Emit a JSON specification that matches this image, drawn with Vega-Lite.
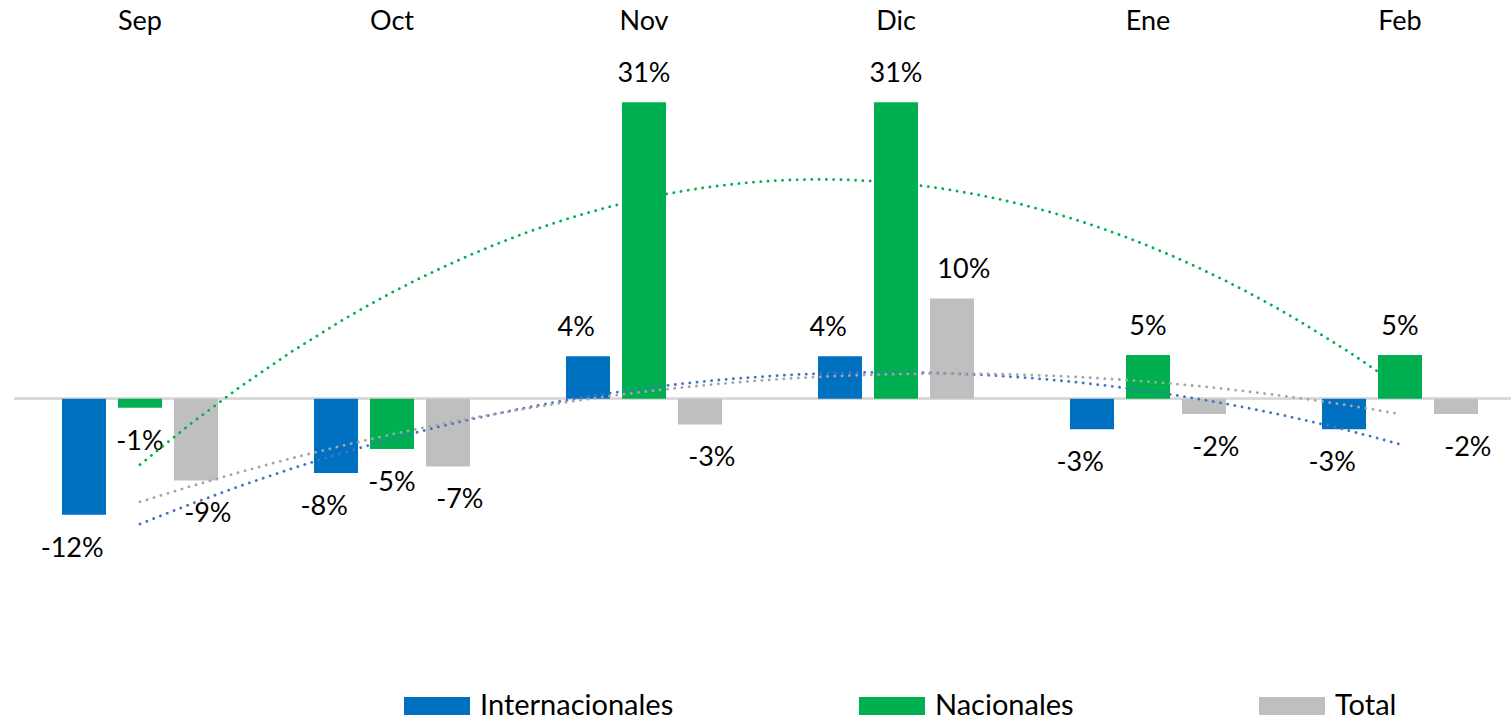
{
  "$schema": "https://vega.github.io/schema/vega-lite/v6.json",
  "width": 1512,
  "height": 632,
  "autosize": {"type": "none"},
  "padding": {"left": 14, "top": 54, "right": 0, "bottom": 35},
  "background": "white",
  "config": {
    "view": {"stroke": null},
    "font": "Lato",
    "locale": {"number": {"decimal": ".", "thousands": ",", "grouping": [3], "currency": ["$", ""], "minus": "-"}}
  },
  "data": {
    "values": [
      {"month": "Sep", "idx": 0, "series": "Internacionales", "value": -0.1211},
      {"month": "Sep", "idx": 0, "series": "Nacionales", "value": -0.0094},
      {"month": "Sep", "idx": 0, "series": "Total", "value": -0.0853},
      {"month": "Oct", "idx": 1, "series": "Internacionales", "value": -0.0776},
      {"month": "Oct", "idx": 1, "series": "Nacionales", "value": -0.0525},
      {"month": "Oct", "idx": 1, "series": "Total", "value": -0.0707},
      {"month": "Nov", "idx": 2, "series": "Internacionales", "value": 0.0444},
      {"month": "Nov", "idx": 2, "series": "Nacionales", "value": 0.3097},
      {"month": "Nov", "idx": 2, "series": "Total", "value": -0.0268},
      {"month": "Dic", "idx": 3, "series": "Internacionales", "value": 0.0444},
      {"month": "Dic", "idx": 3, "series": "Nacionales", "value": 0.3097},
      {"month": "Dic", "idx": 3, "series": "Total", "value": 0.1047},
      {"month": "Ene", "idx": 4, "series": "Internacionales", "value": -0.032},
      {"month": "Ene", "idx": 4, "series": "Nacionales", "value": 0.0456},
      {"month": "Ene", "idx": 4, "series": "Total", "value": -0.016},
      {"month": "Feb", "idx": 5, "series": "Internacionales", "value": -0.032},
      {"month": "Feb", "idx": 5, "series": "Nacionales", "value": 0.0456},
      {"month": "Feb", "idx": 5, "series": "Total", "value": -0.016}
    ]
  },
  "layer": [
    {
      "mark": {"type": "rule", "color": "#D9D9D9", "strokeWidth": 2},
      "encoding": {
        "y": {"datum": 0, "type": "quantitative", "scale": {"domain": [-0.3, 0.36], "nice": false, "zero": false}, "axis": null}
      }
    },
    {
      "mark": {"type": "bar"},
      "encoding": {
        "x": {
          "field": "month", "type": "nominal",
          "sort": ["Sep", "Oct", "Nov", "Dic", "Ene", "Feb"],
          "scale": {"domain": ["Sep", "Oct", "Nov", "Dic", "Ene", "Feb"], "paddingInner": 0, "paddingOuter": 0},
          "axis": {"orient": "top", "title": null, "domain": false, "ticks": false, "tickSize": 0, "grid": false,
                   "labelPadding": 25, "labelBaseline": "alphabetic", "labelFontSize": 27, "labelFont": "Lato",
                   "labelColor": "#000000", "labelAngle": 0}
        },
        "xOffset": {
          "field": "series", "type": "nominal",
          "sort": ["Internacionales", "Nacionales", "Total"],
          "scale": {"domain": ["Internacionales", "Nacionales", "Total"], "paddingInner": 0.2143, "paddingOuter": 0.857}
        },
        "y": {"field": "value", "type": "quantitative", "scale": {"domain": [-0.3, 0.36], "nice": false, "zero": false}, "axis": null},
        "color": {
          "field": "series", "type": "nominal",
          "scale": {"domain": ["Internacionales", "Nacionales", "Total"], "range": ["#0070C0", "#00B050", "#BFBFBF"]},
          "legend": {
            "orient": "none", "legendX": 390, "legendY": 619, "direction": "horizontal", "title": null,
            "symbolType": "M-1,-0.27H1V0.27H-1Z", "symbolSize": 4356, "symbolStrokeWidth": 0, "symbolOpacity": 1,
            "labelFontSize": 29, "labelFont": "Lato", "labelColor": "#000000", "labelOffset": 10, "labelLimit": 500,
            "columnPadding": 185, "padding": 0
          }
        }
      }
    },
    {
      "transform": [{"filter": "datum.value >= 0"}],
      "mark": {"type": "text", "fontSize": 27, "font": "Lato", "color": "#000000", "baseline": "alphabetic", "align": "center", "dy": -20},
      "encoding": {
        "x": {"field": "month", "type": "nominal", "sort": ["Sep", "Oct", "Nov", "Dic", "Ene", "Feb"], "scale": {"domain": ["Sep", "Oct", "Nov", "Dic", "Ene", "Feb"], "paddingInner": 0, "paddingOuter": 0}, "axis": null},
        "xOffset": {"field": "series", "type": "nominal", "sort": ["Internacionales", "Nacionales", "Total"], "scale": {"domain": ["Internacionales", "Nacionales", "Total"], "paddingInner": 0.2143, "paddingOuter": 0.857}},
        "y": {"field": "value", "type": "quantitative", "scale": {"domain": [-0.3, 0.36], "nice": false, "zero": false}, "axis": null},
        "text": {"field": "value", "type": "quantitative", "format": ".0%"}
      }
    },
    {
      "transform": [{"filter": "datum.value < 0"}],
      "mark": {"type": "text", "fontSize": 27, "font": "Lato", "color": "#000000", "baseline": "alphabetic", "align": "center", "dy": 42},
      "encoding": {
        "x": {"field": "month", "type": "nominal", "sort": ["Sep", "Oct", "Nov", "Dic", "Ene", "Feb"], "scale": {"domain": ["Sep", "Oct", "Nov", "Dic", "Ene", "Feb"], "paddingInner": 0, "paddingOuter": 0}, "axis": null},
        "xOffset": {"field": "series", "type": "nominal", "sort": ["Internacionales", "Nacionales", "Total"], "scale": {"domain": ["Internacionales", "Nacionales", "Total"], "paddingInner": 0.2143, "paddingOuter": 0.857}},
        "y": {"field": "value", "type": "quantitative", "scale": {"domain": [-0.3, 0.36], "nice": false, "zero": false}, "axis": null},
        "text": {"field": "value", "type": "quantitative", "format": ".0%"}
      }
    },
    {
      "transform": [{"regression": "value", "on": "idx", "groupby": ["series"], "method": "poly", "order": 2, "extent": [0, 5]}],
      "mark": {"type": "line", "strokeWidth": 2.8, "strokeDash": [0.1, 7.2], "strokeCap": "round"},
      "encoding": {
        "x": {"field": "idx", "type": "quantitative", "scale": {"domain": [-0.5, 5.5], "nice": false, "zero": false}, "axis": null},
        "y": {"field": "value", "type": "quantitative", "scale": {"domain": [-0.3, 0.36], "nice": false, "zero": false}, "axis": null},
        "stroke": {
          "field": "series", "type": "nominal",
          "scale": {"domain": ["Internacionales", "Nacionales", "Total"], "range": ["#4472C4", "#00B050", "#A5A5A5"]},
          "legend": null
        }
      }
    }
  ],
  "resolve": {"scale": {"x": "independent", "xOffset": "independent"}}
}
